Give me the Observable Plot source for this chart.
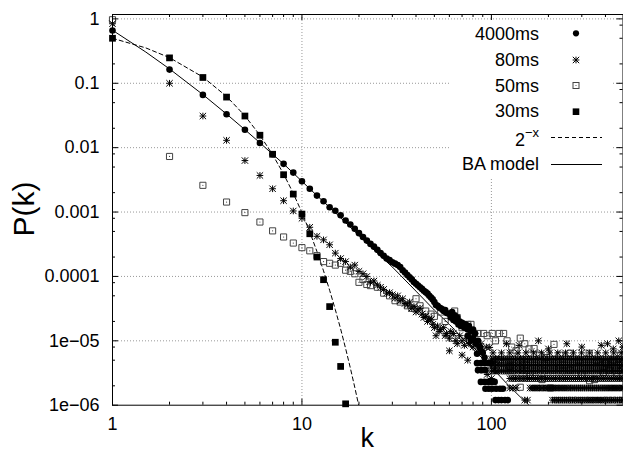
<!DOCTYPE html>
<html><head><meta charset="utf-8">
<script src="https://cdn.jsdelivr.net/npm/d3@7"></script>
<script src="https://cdn.jsdelivr.net/npm/@observablehq/plot@0.6"></script>
<style>body{margin:0;background:#fff;} svg{display:block}</style>
</head><body><div id="chart"></div>
<script>
// ---------- tick data ----------
const xTicks = [1, 10, 100];
const xTickLabels = ["1", "10", "100"];
const xMinor = [2,3,4,5,6,7,8,9,20,30,40,50,60,70,80,90,200,300,400];
const yTicks = [1, 0.1, 0.01, 0.001, 0.0001, 1e-5, 1e-6];
const yTickLabels = ["1", "0.1", "0.01", "0.001", "0.0001", "1e\u221205", "1e\u221206"];
const yMinor = [0.8,0.5,0.2,0.08,0.05,0.02,0.008,0.005,0.002,0.0008,0.0005,0.0002,8e-5,5e-5,2e-5,8e-6,5e-6,2e-6];
const legendLabels = ["4000ms", "80ms", "50ms", "30ms", "2", "BA model"];

// ---------- series (k, P(k)) ----------
const ms4000 = [[1,0.66],[2,0.163],[3,0.066],[4,0.033],[5,0.019],[6,0.0118],[7,0.0079],[8,0.0056],[9,0.0041],[10,0.0030],
 [11,0.0023],[12,0.0018],[13,0.00147],[14,0.00119],[15,0.00105],[16,0.00089],[17,0.00074],[18,0.00064],[19,0.00055],[20,0.00047],
 [21,0.00041],[22,0.00036],[23,0.00032],[24,0.00029],[25,0.00026],[26,0.00023],[27,0.00021],[28,0.00019],[29,0.00018],[30,0.000166],
 [31,0.000158],[32,0.00015],[33,0.00014],[34,0.000125],[35,0.000115],[36,0.000105],[37,9.7e-5],[38,9.0e-5],[39,8.2e-5],[40,7.7e-5],
 [41,7.2e-5],[42,6.8e-5],[43,6.4e-5],[44,6.0e-5],[45,5.7e-5],[46,5.4e-5],[47,5.0e-5],[48,4.7e-5],[49,4.4e-5],[50,4.0e-5],
 [51,3.6e-5],[52,3.5e-5],[53,3.3e-5],[54,3.2e-5],[55,3.1e-5],[56,2.9e-5],[57,3.0e-5],[58,2.7e-5],
 [60,2.6e-5],[61,2.3e-5],[62,2.8e-5],[63,2.1e-5],[64,2.5e-5],[65,2.0e-5],[66,2.3e-5],[67,1.8e-5],[68,2.0e-5],[69,1.7e-5],
 [70,1.9e-5],[72,1.6e-5],[73,1.8e-5],[75,1.5e-5],[76,1.7e-5],[78,1.4e-5],[80,1.5e-5],[82,1.3e-5],[75,1.2e-5],[78,1.0e-5],
 [80,1.1e-5],[83,9e-6],[85,1.0e-5],[87,8e-6],[88,7e-6],[90,6.5e-6],[92,5.5e-6],[84,6.3e-6],
 [84,4.5e-6],[88,4.5e-6],[92,4.5e-6],[96,4.5e-6],[100,4.5e-6],[85,3.5e-6],[89,3.5e-6],[93,3.5e-6],
 [88,2.3e-6],[92,2.3e-6],[96,2.3e-6],[100,2.3e-6],[104,2.3e-6],
 [93,1.8e-6],[97,1.8e-6],[101,1.8e-6],[106,1.8e-6],[111,1.8e-6],[115,1.8e-6],
 [105,1.2e-6],[109,1.2e-6],[113,1.2e-6],[118,1.2e-6],[122,1.2e-6]];

const ms80 = [[1,0.84],[2,0.1],[3,0.031],[4,0.013],[5,0.0063],[6,0.0037],[7,0.0023],[8,0.0015],[9,0.00104],[10,0.0008],
 [11,0.00058],[12,0.00042],[13,0.00037],[14,0.00031],[15,0.00023],[16,0.00019],[17,0.00017],[18,0.00014],[19,0.00015],[20,0.00012],
 [21,0.00011],[22,0.0001],[23,8.2e-5],[24,8.5e-5],[25,7.3e-5],[26,6.8e-5],[27,6.3e-5],[28,5.5e-5],[29,5.6e-5],[30,5.2e-5],
 [31,4.6e-5],[32,5.0e-5],[33,4.2e-5],[34,4.5e-5],[35,3.8e-5],[36,3.6e-5],[37,4.0e-5],[38,3.2e-5],[39,3.4e-5],[40,2.8e-5],
 [41,3.0e-5],[42,3.2e-5],[43,2.6e-5],[44,2.3e-5],[45,2.4e-5],[46,2.0e-5],[47,2.2e-5],[48,2.1e-5],[49,1.8e-5],[50,1.6e-5],
 [51,1.2e-5],[52,1.7e-5],[53,1.4e-5],[54,1.5e-5],[56,1.6e-5],[57,1.2e-5],[58,1.3e-5],[60,1.1e-5],[61,1.4e-5],[63,1.3e-5],
 [65,1.0e-5],[66,9e-6],[68,1.2e-5],[70,1.0e-5],[72,8.5e-6],[74,1.1e-5],[76,9e-6],[78,1.0e-5],[80,8e-6],[82,9.5e-6],
 [85,7.5e-6],[88,9e-6],[90,7e-6],[94,8e-6],[98,7.9e-6],[60,7e-6],[70,6e-6],[75,5e-6],[88,3.5e-6],[95,3e-6],[100,2.6e-6],
 [120,9e-6],[140,8.5e-6],[177,1e-5],[200,7.5e-6],[250,9e-6],[300,8e-6],[380,8.5e-6],[410,9e-6],[440,7.5e-6],[470,1.0e-5],[495,8e-6]];

// degrees in the dense tail where the 80ms cloud is solid
const tailK = [100,102,105,107,110,113,116,119,122,125,128,131,134,138,141,145,148,152,155,159,163,167,171,175,180,184,189,193,198,203,
 208,213,218,224,229,235,240,246,252,258,265,271,278,285,292,299,307,314,322,330,338,346,355,364,373,382,391,401,411,421,431,442,453,464,475,485,495];

// 80ms tail rows: [P level, k values]
const ms80TailRows = [
 [6.5e-6, [102,113,125,138,152,167,184,203,224,246,271,299,330,364,401,442,485]],
 [5.2e-6, tailK],
 [4.2e-6, tailK],
 [3.4e-6, tailK],
 [2.6e-6, tailK.filter(k => k >= 125)],
 [1.85e-6, [125,130,135,160,164,168,172,176,180,185,189,194,199,204,209,214,219,225,230,236,242,248,254,261,267,274,281,288,295,302,310,318,326,334,342,351,359,368,378,387,397,407,417,428,438,449,460,472,484,495]],
 [1.2e-6, [150,155,210,215,220,226,231,237,243,249,255,262,268,275,282,289,296,303,311,319,327,335,343,352,361,370,379,389,399,409,419,430,440,451,463,474,486,495]]
];

const ms50 = [[1,0.97],[2,0.0073],[3,0.0026],[4,0.00143],[5,0.00098],[6,0.0007],[7,0.00051],[8,0.00041],[9,0.00033],[10,0.00028],
 [11,0.00025],[12,0.00021],[13,0.00017],[14,0.00016],[15,0.00015],[16,0.00016],[17,0.000125],[18,0.00012],[19,0.00011],[20,8.1e-5],
 [21,9e-5],[22,7.5e-5],[23,7.2e-5],[25,6.8e-5],[27,5.5e-5],[29,5.0e-5],[31,4.2e-5],[33,4.0e-5],[36,3.5e-5],[38,3.2e-5],
 [40,4.5e-5],[42,3.5e-5],[45,2.9e-5],[48,2.6e-5],[50,2.4e-5],[54,2.8e-5],[57,2.0e-5],[62,1.1e-5],[64,2.9e-5],[66,2.3e-5],
 [70,1.6e-5],[75,1.8e-5],[78,1.8e-5],[85,1.3e-5],[91,1.3e-5],[95,1.2e-5],[101,1.3e-5],[105,1.0e-5],[110,1.3e-5],[116,1.3e-5],
 [121,1.0e-5],[128,8e-6],[135,7e-6],[142,1.1e-5],[150,9e-6],[158,7.5e-6],[168,7.6e-6],[180,6e-6],[195,5.5e-6],[214,8.8e-6],
 [230,6e-6],[260,6.4e-6],[290,5e-6],[328,6.4e-6],[360,5e-6],[400,4.5e-6],[440,5e-6],[480,6e-6],
 [111,5.1e-6],[125,4e-6],[142,1.9e-6],[160,3e-6],[185,2.5e-6],[205,1.85e-6],[230,3.8e-6],[260,3.5e-6],[300,3e-6],[330,2.4e-6],
 [350,2.5e-6],[390,3.2e-6],[420,3.5e-6],[460,2.8e-6],[490,3.6e-6]];

const ms30 = [[1,0.5],[2,0.248],[3,0.123],[4,0.061],[5,0.031],[6,0.0156],[7,0.0079],[8,0.0038],[9,0.0019],[10,0.00093],
 [11,0.00046],[12,0.0002],[13,8.9e-5],[14,3.4e-5],[15,9.5e-6],[16,4e-6],[17,1.05e-6]];

// reference curves as drawn
const curve2x = [[1,0.5],[1.5,0.354],[2,0.25],[3,0.125],[4,0.0625],[5,0.03125],[6,0.0156],[7,0.0078],[8,0.0039],[9,0.00195],[10,0.00098],
 [11,0.00049],[12,0.000244],[13,0.000122],[14,6.1e-5],[15,3.05e-5],[16,1.53e-5],[17,7.6e-6],[18,3.8e-6],[19,1.9e-6],[20,9.5e-7]];
const curveBA = [[1,0.667],[1.5,0.305],[2,0.167],[3,0.0667],[4,0.0333],[5,0.019],[6,0.0119],[7,0.0079],[8,0.0056],[10,0.003],[12,0.0018],
 [15,0.00098],[20,0.00043],[25,0.00023],[30,0.00014],[40,5.9e-5],[50,3.0e-5],[60,1.8e-5],[80,7.4e-6],[100,3.9e-6],[120,2.2e-6],[140,1.4e-6],[158,1.0e-6]];

// ---------- build ----------
const ms80All = ms80.concat(ms80TailRows.flatMap(([p, ks]) => ks.map(k => [k, p])));
const W = 623, H = 453, mL = 112, mR = 0.5, mT = 14, mB = 48.3;
const innerW = W - mL - mR, innerH = H - mT - mB;
const px = d => d[0], py = d => d[1];
const labelX = new Map(xTicks.map((v, i) => [v, xTickLabels[i]]));
const labelY = new Map(yTicks.map((v, i) => [v, yTickLabels[i]]));
const gridStyle = {stroke: "#999", strokeDasharray: "1,2", strokeWidth: 1};

const chart = Plot.plot({
  width: W, height: H,
  marginLeft: mL, marginRight: mR, marginTop: mT, marginBottom: mB,
  style: {fontFamily: "'Liberation Sans', Arial, sans-serif", fontSize: "18px", background: "#fff", overflow: "visible", color: "#000"},
  x: {type: "log", domain: [1, 495]},
  y: {type: "log", domain: [1e-6, 1.17]},
  marks: [
    Plot.ruleX(xTicks.slice(1), {...gridStyle, ariaLabel: "grid-x"}),
    Plot.ruleY(yTicks.slice(0, -1), {...gridStyle, ariaLabel: "grid-y"}),
    Plot.line(curveBA, {x: px, y: py, stroke: "#000", strokeWidth: 1, clip: true}),
    Plot.line(curve2x, {x: px, y: py, stroke: "#000", strokeWidth: 1, strokeDasharray: "4,3", clip: true}),
    Plot.dot(ms50, {x: px, y: py, symbol: "square2", r: 3.9, stroke: "#444", strokeWidth: 1, fill: "none"}),
    Plot.dot(ms50, {x: px, y: py, r: 0.6, fill: "#444", stroke: "none"}),
    Plot.dot(ms80All, {x: px, y: py, symbol: "plus", r: 2.3, stroke: "#000", strokeWidth: 1}),
    Plot.dot(ms80All, {x: px, y: py, symbol: "times", r: 3, stroke: "#000", strokeWidth: 1}),
    Plot.dot(ms4000, {x: px, y: py, r: 3.3, fill: "#000", stroke: "none"}),
    Plot.dot(ms30, {x: px, y: py, symbol: "square", r: 3.8, fill: "#000", stroke: "none"}),
    // inward ticks on all four sides
    Plot.tickX(xTicks, {insetTop: innerH - 6, stroke: "#000"}),
    Plot.tickX(xTicks, {insetBottom: innerH - 6, stroke: "#000"}),
    Plot.tickX(xMinor, {insetTop: innerH - 3, stroke: "#000"}),
    Plot.tickX(xMinor, {insetBottom: innerH - 3, stroke: "#000"}),
    Plot.tickY(yTicks, {insetRight: innerW - 6, stroke: "#000"}),
    Plot.tickY(yTicks, {insetLeft: innerW - 6, stroke: "#000"}),
    Plot.tickY(yMinor, {insetRight: innerW - 3, stroke: "#000"}),
    Plot.tickY(yMinor, {insetLeft: innerW - 3, stroke: "#000"}),
    Plot.frame({stroke: "#000", strokeWidth: 1}),
    Plot.axisX(xTicks, {tickSize: 0, tickPadding: 12, tickFormat: d => labelX.get(d), label: null}),
    Plot.axisY(yTicks, {tickSize: 0, tickPadding: 13, tickFormat: d => labelY.get(d), label: null})
  ]
});
document.getElementById("chart").appendChild(chart);

// ---------- legend box, legend entries and axis titles ----------
const NS = "http://www.w3.org/2000/svg";
const svg = d3.select(chart);
const bg = document.createElementNS(NS, "rect");
bg.setAttribute("x", 450); bg.setAttribute("y", 20); bg.setAttribute("width", 163); bg.setAttribute("height", 157);
bg.setAttribute("fill", "#fff");
const grids = chart.querySelectorAll('[aria-label="grid-x"], [aria-label="grid-y"]');
if (grids.length) grids[grids.length - 1].after(bg); else chart.appendChild(bg);

const lg = svg.append("g").attr("font-family", "'Liberation Sans', Arial, sans-serif").attr("font-size", 18);
const baselines = [39.5, 65.8, 91.6, 117.4, 145.5, 169.8];
const centers = [33.3, 60, 85.5, 111.7, 137.5, 164.5];
const textX = 539, symX = 576;
legendLabels.forEach((lab, i) => {
  const t = lg.append("text").attr("x", textX).attr("y", baselines[i]).attr("text-anchor", "end").attr("fill", "#000");
  if (i === 4) {
    t.append("tspan").text(lab);
    t.append("tspan").attr("dy", -9).attr("font-size", 13).text("\u2212x");
  } else t.text(lab);
});
lg.append("circle").attr("cx", symX).attr("cy", centers[0]).attr("r", 3.1).attr("fill", "#000");
lg.append("path").attr("d", d3.symbol(d3.symbolPlus, Math.PI * 2.3 * 2.3)()).attr("transform", `translate(${symX},${centers[1]})`).attr("stroke", "#000").attr("fill", "none");
lg.append("path").attr("d", d3.symbol(d3.symbolTimes, Math.PI * 9)()).attr("transform", `translate(${symX},${centers[1]})`).attr("stroke", "#000").attr("fill", "none");
lg.append("rect").attr("x", symX - 3).attr("y", centers[2] - 3).attr("width", 6).attr("height", 6).attr("fill", "none").attr("stroke", "#444");
lg.append("circle").attr("cx", symX).attr("cy", centers[2]).attr("r", 0.6).attr("fill", "#444");
lg.append("rect").attr("x", symX - 3.3).attr("y", centers[3] - 3.3).attr("width", 6.6).attr("height", 6.6).attr("fill", "#000");
lg.append("line").attr("x1", 551).attr("x2", 602).attr("y1", centers[4]).attr("y2", centers[4]).attr("stroke", "#000").attr("stroke-dasharray", "4,3");
lg.append("line").attr("x1", 551).attr("x2", 602).attr("y1", centers[5]).attr("y2", centers[5]).attr("stroke", "#000");

svg.append("text").attr("transform", "translate(34,209) rotate(-90)").attr("text-anchor", "middle")
  .attr("font-family", "'Liberation Sans', Arial, sans-serif").attr("font-size", 30).attr("fill", "#000").text("P(k)");
svg.append("text").attr("x", (mL + W - mR) / 2).attr("y", 447).attr("text-anchor", "middle")
  .attr("font-family", "'Liberation Sans', Arial, sans-serif").attr("font-size", 27).attr("fill", "#000").text("k");
</script>
</body></html>
